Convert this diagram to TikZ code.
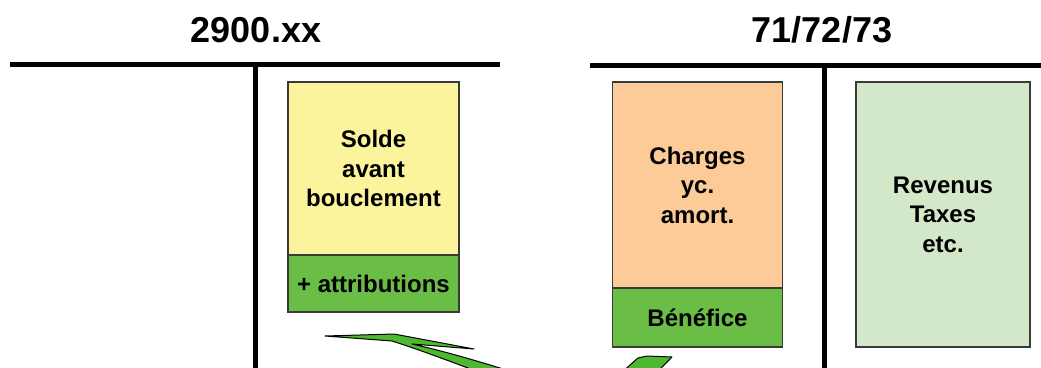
\documentclass[tikz,border=0pt]{standalone}
\usepackage{fontspec}
\setmainfont{Liberation Sans}
\definecolor{soldeyellow}{HTML}{FBF49D}
\definecolor{attribgreen}{HTML}{6ABD45}
\definecolor{chargeorange}{HTML}{FDCB98}
\definecolor{revgreen}{HTML}{D2E8C8}
\definecolor{boxedge}{HTML}{3A3A3A}
\definecolor{arrowgreen}{HTML}{4DB830}
\tikzset{
  tline/.style={line width=5pt, black},
  acct/.style={draw=boxedge, line width=1.2pt, rectangle, align=center,
    inner sep=0pt, font=\bfseries\fontsize{24}{29.5}\selectfont},
  title/.style={font=\bfseries\fontsize{36}{40}\selectfont, inner sep=0pt},
}
\begin{document}
\begin{tikzpicture}[x=1pt, y=-1pt]
  \useasboundingbox (0,0) rectangle (1041,367);
  \clip (0,0) rectangle (1041,367);

  % account 2900.xx
  \node[title] (t1) at (256,30) {2900.xx};
  \coordinate (l1a) at (10,64);
  \coordinate (l1b) at (500,64);
  \coordinate (v1a) at (255,64);
  \coordinate (v1b) at (255,372);
  \draw[tline] (l1a) -- (l1b);
  \draw[tline] (v1a) -- (v1b);

  \node[acct, fill=soldeyellow, minimum width=171, minimum height=173]
    (solde) at (373.5,168.5) {Solde\\avant\\bouclement};
  \node[acct, fill=attribgreen, minimum width=171, minimum height=57]
    (attrib) at (373.5,283.5) {+ attributions};

  % accounts 71/72/73
  \node[title] (t2) at (822,30) {71/72/73};
  \coordinate (l2a) at (590,65);
  \coordinate (l2b) at (1045,65);
  \coordinate (v2a) at (824,65);
  \coordinate (v2b) at (824,372);
  \draw[tline] (l2a) -- (l2b);
  \draw[tline] (v2a) -- (v2b);

  \node[acct, fill=chargeorange, minimum width=170, minimum height=206]
    (charges) at (697.5,185) {Charges\\yc.\\amort.};
  \node[acct, fill=attribgreen, minimum width=170, minimum height=59]
    (benef) at (697.5,317.5) {Bénéfice};
  \node[acct, fill=revgreen, minimum width=174, minimum height=265]
    (revenus) at (943,214.5) {Revenus\\Taxes\\etc.};

  % curved block arrow carrying the profit to the allocations
  \coordinate (tip) at (325,336);
  \coordinate (notch) at (412,344);
  \filldraw[fill=arrowgreen, draw=black, line width=1pt, line join=round]
    (tip) -- (394,334) -- (474,349) -- (notch)
    .. controls (500,364) and (560,392) .. (592,388)
    .. controls (612,384) and (626,368) .. (638,358)
    -- (647,356) -- (672,357)
    .. controls (655,374) and (630,404) .. (590,404)
    .. controls (550,404) and (470,366) .. (392,341)
    -- cycle;
\end{tikzpicture}
\end{document}
